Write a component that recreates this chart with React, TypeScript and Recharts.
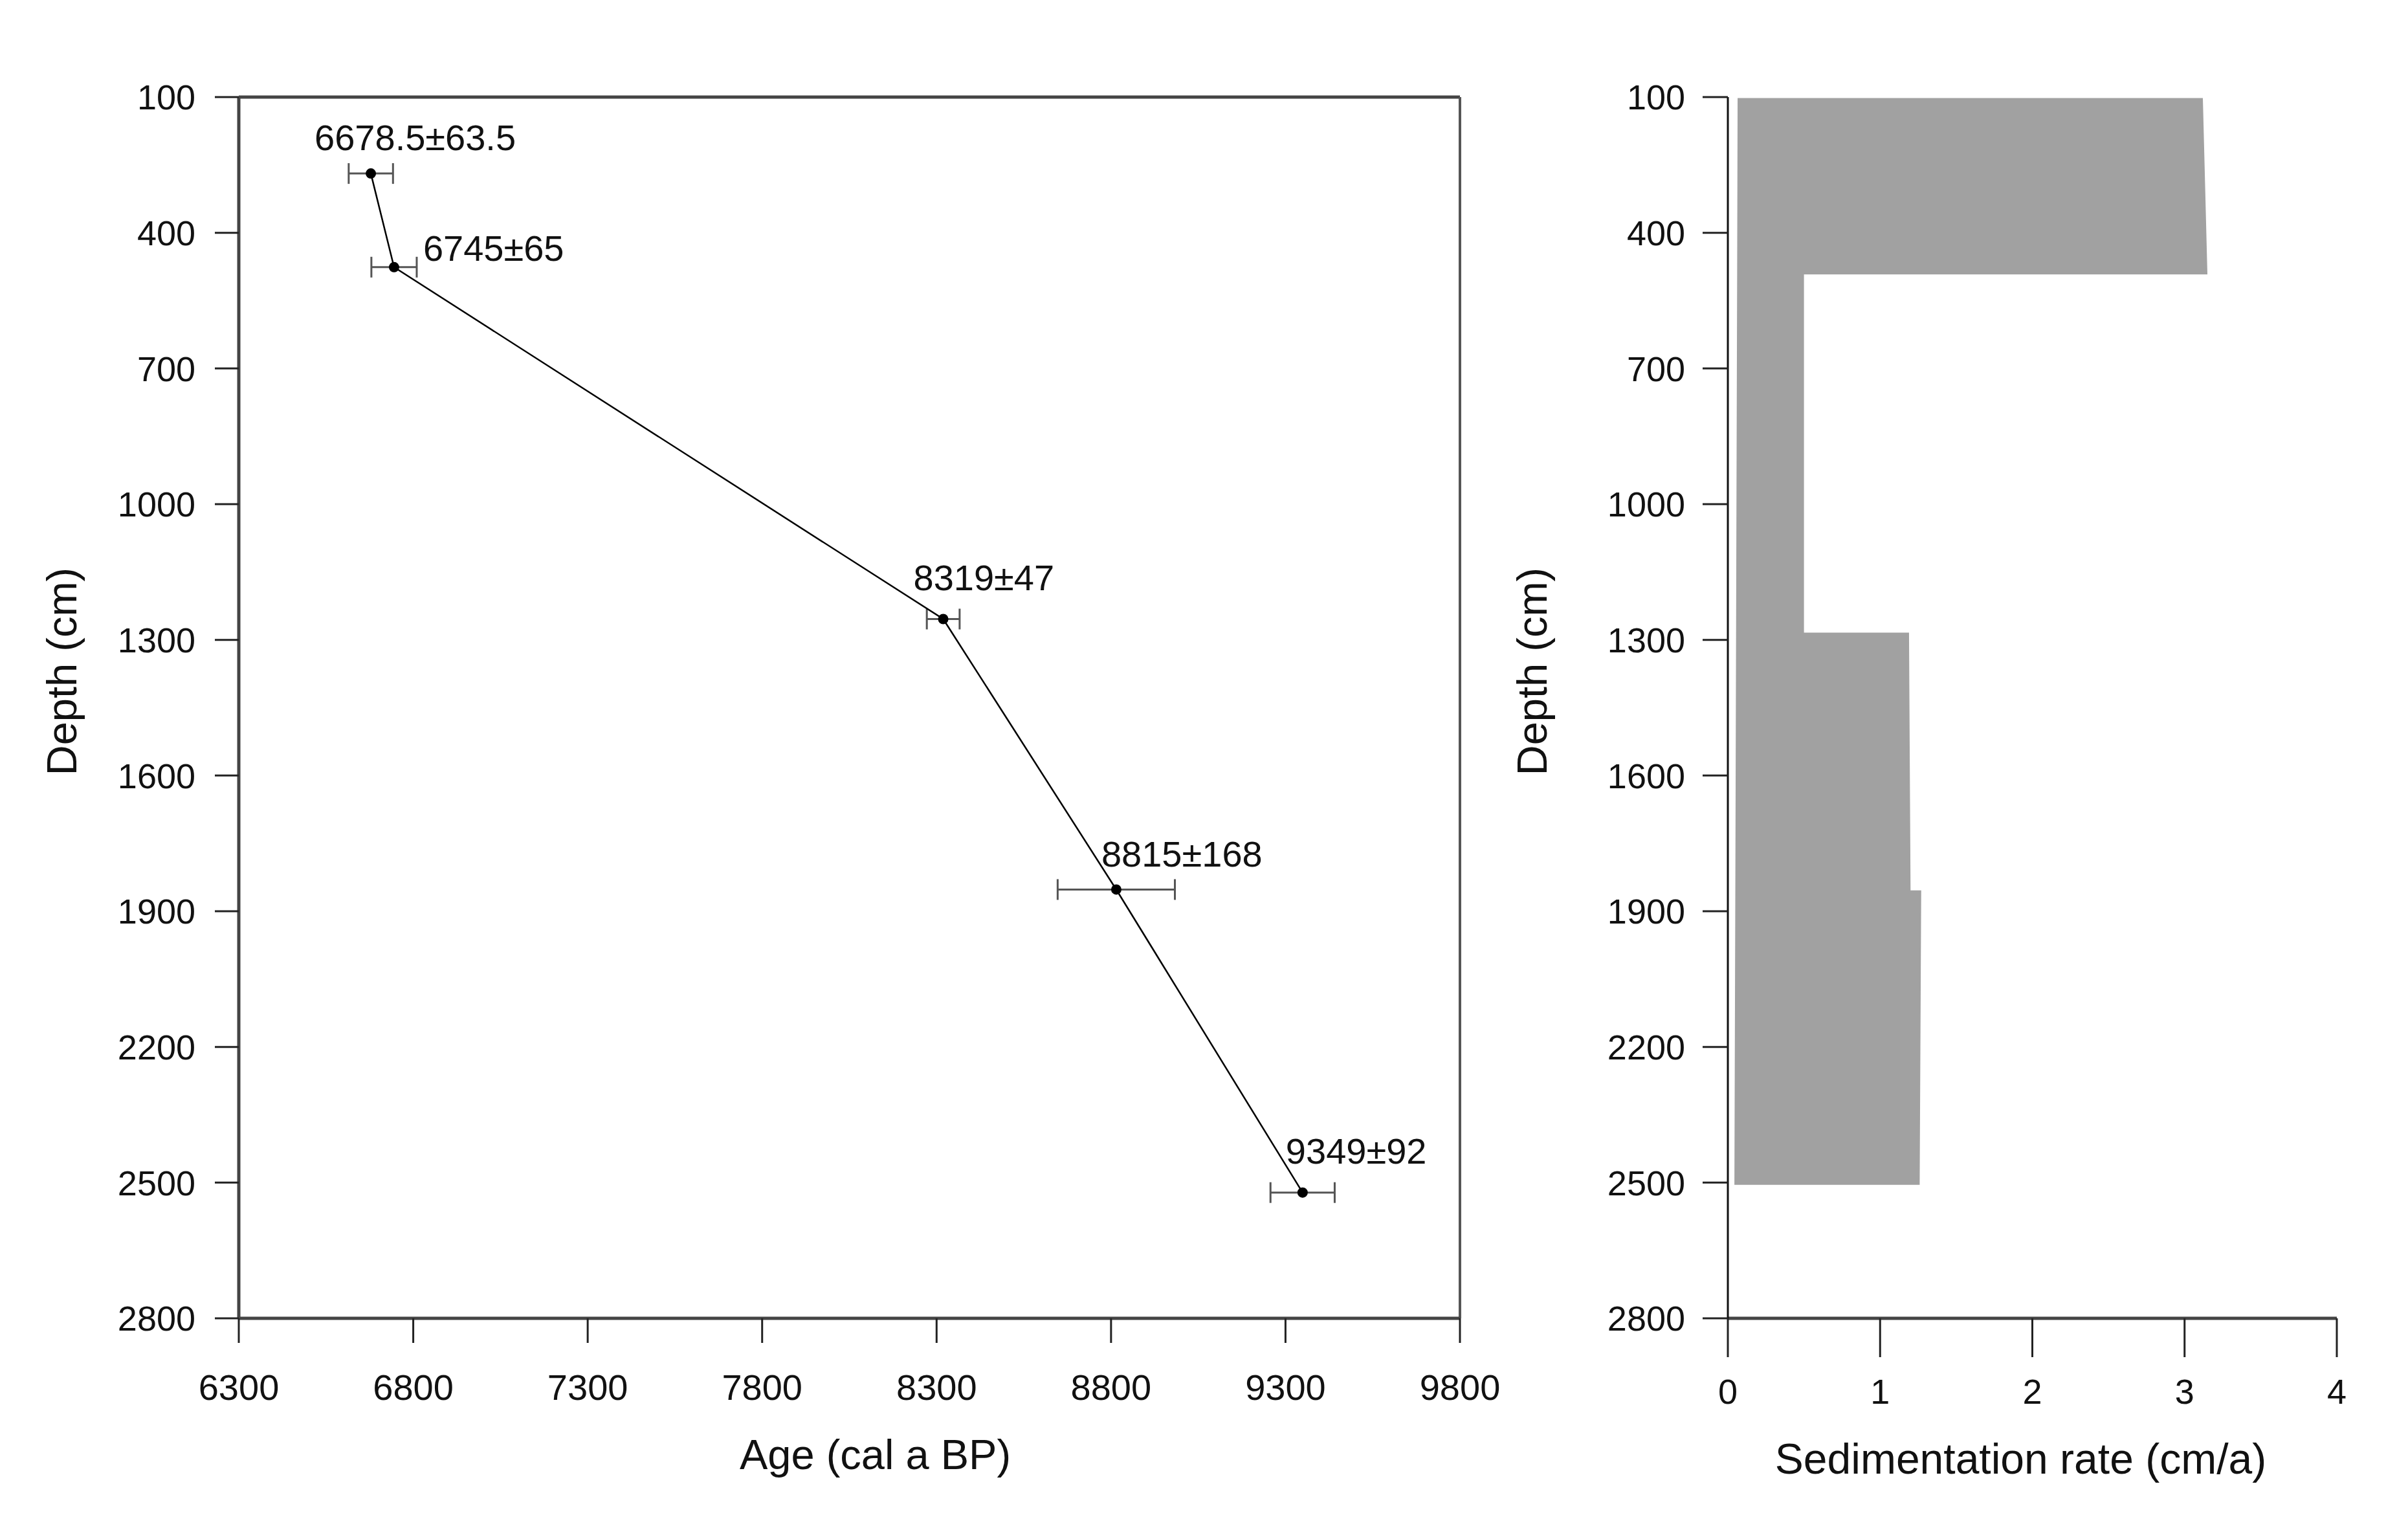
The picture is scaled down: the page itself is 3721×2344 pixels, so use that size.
import { Area, ComposedChart, ErrorBar, Label, ReferenceLine, Scatter, ScatterChart, XAxis, YAxis } from "recharts";

// dated samples (age-depth model)
const ages = [6678.5, 6745, 8319, 8815, 9349];
const ageErrors = [63.5, 65, 47, 168, 92];
const sampleDepths = [269, 476, 1254, 1852, 2522];
const ageLabels = ["6678.5±63.5", "6745±65", "8319±47", "8815±168", "9349±92"];

// sedimentation rate outline (depth, left edge, right edge)
const rateDepths = [102, 492, 492, 1284, 1284, 1854, 1854, 2505];
const rateLow = [0.064, 0.061, 0.061, 0.054, 0.054, 0.049, 0.049, 0.043];
const rateHigh = [3.12, 3.15, 0.5, 0.5, 1.19, 1.2, 1.27, 1.26];

const depthTicks = [100, 400, 700, 1000, 1300, 1600, 1900, 2200, 2500, 2800];
const ageTicks = [6300, 6800, 7300, 7800, 8300, 8800, 9300, 9800];
const rateTicks = [0, 1, 2, 3, 4];

const samples = ages.map((age, i) => ({ age, err: ageErrors[i], depth: sampleDepths[i], label: ageLabels[i] }));
const rateData = rateDepths.map((depth, i) => ({ depth, range: [rateLow[i], rateHigh[i]] }));

// label placement relative to each dot: [dx, dy] of the text start/baseline
const labelOffsets = [[-87, -36], [45, -10], [-46, -45], [-23, -35], [-26, -45]];

const FONT = '"Liberation Sans", Arial, Helvetica, sans-serif';
const TEXT = "#111";
const AXIS = { stroke: "#444", strokeWidth: 5 };
const TICK = { stroke: "#222", strokeWidth: 3 };

function DatedPoint(props: any) {
  const { cx, cy, payload } = props;
  const i = ageLabels.indexOf(payload.label);
  const [dx, dy] = labelOffsets[i] ?? [0, -40];
  return (
    <g>
      <circle cx={cx} cy={cy} r={8} fill="#000" />
      <text x={cx + dx} y={cy + dy} fontSize={56} fill={TEXT} fontFamily={FONT}>
        {payload.label}
      </text>
    </g>
  );
}

function xTitle(text: string, shift: number, base: number, size: number) {
  return (props: any) => {
    const vb = props.viewBox;
    return (
      <text x={vb.x + vb.width / 2 + shift} y={vb.y + base} textAnchor="middle" fontSize={size} fill={TEXT} fontFamily={FONT}>
        {text}
      </text>
    );
  };
}

function yTitle(text: string, baseX: number, shift: number) {
  return (props: any) => {
    const vb = props.viewBox;
    const x = vb.x + baseX;
    const y = vb.y + vb.height / 2 + shift;
    return (
      <text x={x} y={y} transform={`rotate(-90, ${x}, ${y})`} textAnchor="middle" fontSize={65} fill={TEXT} fontFamily={FONT}>
        {text}
      </text>
    );
  };
}

function AgeDepth() {
  return (
    <ScatterChart width={2330} height={2344} margin={{ top: 150, right: 74, bottom: 0, left: 0 }}>
      <XAxis
        type="number"
        dataKey="age"
        domain={[6300, 9800]}
        ticks={ageTicks}
        height={307}
        tickSize={38}
        tickMargin={48}
        axisLine={AXIS}
        tickLine={TICK}
        tick={{ fill: TEXT, fontSize: 56, fontFamily: FONT }}
      >
        <Label content={xTitle("Age (cal a BP)", 40, 233, 65)} />
      </XAxis>
      <YAxis
        type="number"
        dataKey="depth"
        domain={[100, 2800]}
        ticks={depthTicks}
        reversed
        width={369}
        tickSize={37}
        tickMargin={30}
        axisLine={AXIS}
        tickLine={TICK}
        tick={{ fill: TEXT, fontSize: 54, fontFamily: FONT }}
      >
        <Label content={yTitle("Depth (cm)", 118, -56)} />
      </YAxis>
      <ReferenceLine y={100} stroke="#444" strokeWidth={5} />
      <ReferenceLine x={9800} stroke="#555" strokeWidth={4} />
      <Scatter
        data={samples}
        line={{ stroke: "#000", strokeWidth: 2.5 }}
        shape={<DatedPoint />}
        isAnimationActive={false}
      >
        <ErrorBar dataKey="err" direction="x" width={16} stroke="#555" strokeWidth={3} isAnimationActive={false} />
      </Scatter>
    </ScatterChart>
  );
}

function SedimentationRate() {
  return (
    <ComposedChart layout="vertical" width={1391} height={2344} data={rateData} margin={{ top: 150, right: 110, bottom: 0, left: 0 }}>
      <XAxis
        type="number"
        domain={[0, 4]}
        ticks={rateTicks}
        height={307}
        tickSize={60}
        tickMargin={34}
        axisLine={AXIS}
        tickLine={TICK}
        tick={{ fill: TEXT, fontSize: 54, fontFamily: FONT }}
      >
        <Label content={xTitle("Sedimentation rate (cm/a)", -18, 240, 66)} />
      </XAxis>
      <YAxis
        type="number"
        dataKey="depth"
        domain={[100, 2800]}
        ticks={depthTicks}
        width={340}
        tickSize={39}
        tickMargin={27}
        axisLine={{ stroke: "#111", strokeWidth: 3 }}
        tickLine={TICK}
        tick={{ fill: TEXT, fontSize: 54, fontFamily: FONT }}
      >
        <Label content={yTitle("Depth (cm)", 60, -56)} />
      </YAxis>
      <Area
        dataKey="range"
        type="linear"
        stroke="none"
        fill="#a1a1a1"
        fillOpacity={1}
        isAnimationActive={false}
      />
    </ComposedChart>
  );
}

export default function App() {
  return (
    <div style={{ position: "absolute", left: 0, top: 0, width: 3721, height: 2344, background: "#fff", fontFamily: FONT }}>
      <div style={{ position: "absolute", left: 0, top: 0 }}>
        <AgeDepth />
      </div>
      <div style={{ position: "absolute", left: 2330, top: 0 }}>
        <SedimentationRate />
      </div>
    </div>
  );
}
